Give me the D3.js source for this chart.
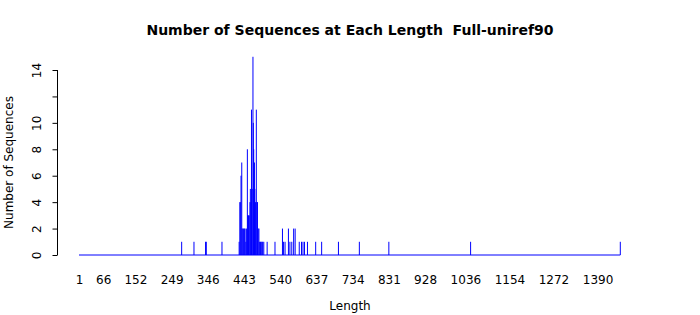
<!DOCTYPE html>
<html>
<head>
<meta charset="utf-8">
<script src="https://cdn.jsdelivr.net/npm/d3@7"></script>
<style>
  body { margin: 0; background: #fff; }
  text { font-family: "DejaVu Sans", sans-serif; }
</style>
</head>
<body>
<div id="chart"></div>
<script>
// sequence lengths and how many sequences have each length
const lengths = [276, 309, 340, 342, 384,
    430, 432, 433, 435, 437, 438, 440, 442, 444, 446, 448, 450, 452, 453, 455, 457, 459, 460,
    462, 463, 465, 467, 468, 469, 471, 472, 474, 476, 478, 479, 481, 483, 485, 487, 489, 491,
    493, 496, 505,
    526, 546, 549, 553, 562, 566, 571, 576, 580, 591, 597, 601, 605, 613, 635, 651, 696,
    752, 831, 1050, 1451];
const counts = [1, 1, 1, 1, 1,
    1, 4, 4, 6, 7, 2, 2, 2, 2, 2, 1, 2, 8, 3, 3, 3, 4, 5,
    4, 11, 5, 15, 10, 8, 7, 5, 4, 11, 4, 4, 2, 2, 1, 1, 1, 1,
    1, 1, 1,
    1, 2, 1, 1, 2, 1, 1, 2, 2, 1, 1, 1, 1, 1, 1, 1, 1,
    1, 1, 1, 1];
const xTicks = [1, 66, 152, 249, 346, 443, 540, 637, 734, 831, 928, 1036, 1154, 1272, 1390];
const yTicks = [0, 2, 4, 6, 8, 10, 12, 14];

const data = lengths.map((l, i) => ({length: l, count: counts[i]}));

const width = 700;
const height = 315;

const svg = d3.select('#chart')
    .append('svg')
    .attr('width', width)
    .attr('height', height);

const x = d3.scaleLinear()
    .domain([1, 1451])
    .range([79, 620.3]);

const y = d3.scaleLinear()
    .domain([0, 14])
    .range([255, 70]);

// zero line along the bottom
svg.append('line')
    .attr('x1', x(1))
    .attr('x2', x(1451))
    .attr('y1', y(0))
    .attr('y2', y(0))
    .attr('stroke', 'blue')
    .attr('stroke-width', 1);

svg.append('g')
    .attr('stroke', 'blue')
    .attr('stroke-width', 1)
    .selectAll('line')
    .data(data)
    .join('line')
        .attr('x1', d => x(d.length))
        .attr('x2', d => x(d.length))
        .attr('y1', y(0))
        .attr('y2', d => y(d.count));

// x axis: labels only
const xg = svg.append('g')
    .attr('transform', `translate(0, ${y(0) + 20})`)
    .call(d3.axisBottom(x).tickValues(xTicks).tickSize(0).tickPadding(0).tickFormat(d3.format('d')));
xg.select('.domain').remove();
xg.selectAll('text')
    .attr('font-size', '12px')
    .attr('font-family', 'DejaVu Sans')
    .attr('fill', '#000')
    .attr('dy', '0.75em');

// y axis
const yg = svg.append('g')
    .attr('transform', 'translate(57.5, 0)')
    .call(d3.axisLeft(y).tickValues(yTicks).tickSize(5).tickFormat(d => d === 12 ? '' : d));
yg.select('.domain')
    .attr('d', `M0,${y(14)}V${y(0)}`)
    .attr('stroke', '#000');
yg.selectAll('.tick line').attr('stroke', '#000');
yg.selectAll('text')
    .attr('font-size', '12px')
    .attr('font-family', 'DejaVu Sans')
    .attr('fill', '#000')
    .attr('x', 0)
    .attr('dy', 0)
    .attr('text-anchor', 'middle')
    .attr('transform', 'translate(-16.5, 0) rotate(-90)');

svg.append('text')
    .attr('x', 350)
    .attr('y', 35)
    .attr('text-anchor', 'middle')
    .attr('font-size', '14px')
    .attr('font-weight', 'bold')
    .style('white-space', 'pre')
    .text('Number of Sequences at Each Length  Full-uniref90');

svg.append('text')
    .attr('x', 350)
    .attr('y', 310)
    .attr('text-anchor', 'middle')
    .attr('font-size', '12px')
    .text('Length');

svg.append('text')
    .attr('transform', `translate(13, ${(y(0) + y(14)) / 2}) rotate(-90)`)
    .attr('text-anchor', 'middle')
    .attr('font-size', '12px')
    .text('Number of Sequences');
</script>
</body>
</html>
